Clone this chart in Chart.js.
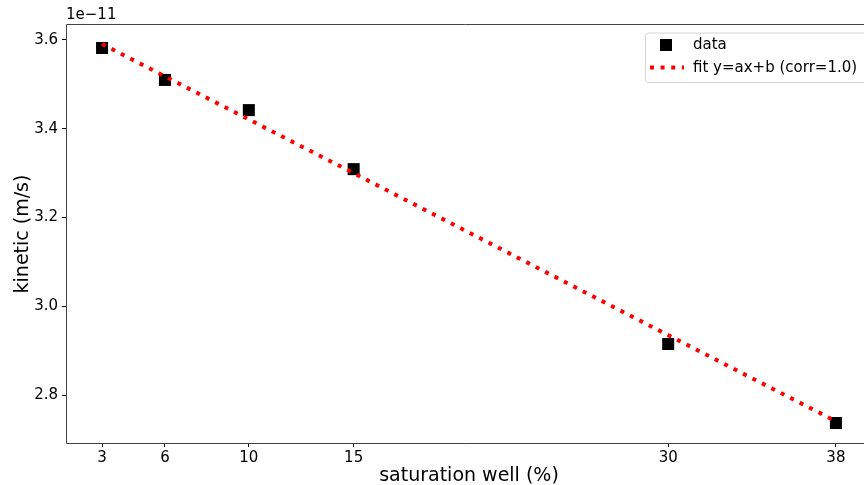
<!DOCTYPE html>
<html>
<head>
<meta charset="utf-8">
<script src="https://cdn.jsdelivr.net/npm/chart.js@4"></script>
<style>
  html, body { margin: 0; padding: 0; background: #fff; }
  #wrap { width: 864px; height: 485px; }
</style>
</head>
<body>
<div id="wrap"><canvas id="chart" width="864" height="485"></canvas></div>
<script>
// values shown in units of 1e-11 m/s
const saturation = [3, 6, 10, 15, 30, 38];
const kinetic = [3.582, 3.510, 3.442, 3.309, 2.915, 2.737];
const fitValues = [3.591, 3.518, 3.421, 3.300, 2.935, 2.741];
const xTicks = [3, 6, 10, 15, 30, 38];
const yTicks = [2.8, 3.0, 3.2, 3.4, 3.6];
const offsetLabel = '1e\u221211';
const xTitle = 'saturation well (%)';
const yTitle = 'kinetic (m/s)';
const legendLabels = ['data', 'fit y=ax+b (corr=1.0)'];

const FONT = 'DejaVu Sans';

const decorations = {
  id: 'decorations',
  afterDraw(chart) {
    const { ctx, chartArea: a } = chart;
    ctx.save();
    // frame (left, top, bottom)
    ctx.strokeStyle = '#444';
    ctx.lineWidth = 1;
    ctx.beginPath();
    ctx.moveTo(a.right, a.top + 0.5);
    ctx.lineTo(a.left + 0.5, a.top + 0.5);
    ctx.lineTo(a.left + 0.5, a.bottom + 0.5);
    ctx.lineTo(a.right, a.bottom + 0.5);
    ctx.stroke();

    // offset text
    ctx.fillStyle = '#000';
    ctx.font = `15px ${FONT}`;
    ctx.textAlign = 'left';
    ctx.textBaseline = 'bottom';
    ctx.fillText(offsetLabel, 66, 23);

    // axis titles
    ctx.font = `19px ${FONT}`;
    ctx.textAlign = 'center';
    ctx.textBaseline = 'middle';
    ctx.fillText(xTitle, 469, 476);
    ctx.save();
    ctx.translate(23, 234);
    ctx.rotate(-Math.PI / 2);
    ctx.fillText(yTitle, 0, 0);
    ctx.restore();

    // legend
    const lx = 645, ly = 32.5, lw = 225, lh = 49.5;
    ctx.fillStyle = 'rgba(255,255,255,0.8)';
    ctx.strokeStyle = '#d6d6d6';
    ctx.lineWidth = 1;
    ctx.beginPath();
    ctx.roundRect(lx + 0.5, ly + 0.5, lw, lh, 3);
    ctx.fill();
    ctx.stroke();

    ctx.fillStyle = '#000';
    ctx.fillRect(660, 39, 12, 12);

    ctx.strokeStyle = '#ff0000';
    ctx.lineWidth = 4;
    ctx.setLineDash([4, 6.6]);
    ctx.beginPath();
    ctx.moveTo(650, 67.5);
    ctx.lineTo(684, 67.5);
    ctx.stroke();
    ctx.setLineDash([]);

    ctx.fillStyle = '#000';
    ctx.font = `15px ${FONT}`;
    ctx.textAlign = 'left';
    ctx.textBaseline = 'middle';
    ctx.fillText(legendLabels[0], 693, 45);
    ctx.fillText(legendLabels[1], 693, 68);
    ctx.restore();
  }
};

const tickFont = { family: FONT, size: 15 };

function noPadding(scale) {
  scale.paddingLeft = 0;
  scale.paddingRight = 0;
  scale.paddingTop = 0;
  scale.paddingBottom = 0;
}

new Chart(document.getElementById('chart'), {
  type: 'scatter',
  data: {
    datasets: [
      {
        label: legendLabels[1],
        data: saturation.map((x, i) => ({ x, y: fitValues[i] })),
        showLine: true,
        borderColor: '#ff0000',
        borderWidth: 4,
        borderDash: [4, 6.6],
        pointRadius: 0,
        fill: false,
        order: 0,
      },
      {
        label: legendLabels[0],
        data: saturation.map((x, i) => ({ x, y: kinetic[i] })),
        pointStyle: 'rect',
        pointRadius: 8.5,
        pointHoverRadius: 8.5,
        backgroundColor: '#000',
        borderColor: '#000',
        borderWidth: 0,
        order: 1,
      },
    ],
  },
  options: {
    responsive: false,
    animation: false,
    layout: { autoPadding: false, padding: { top: 24, right: 0, left: 0, bottom: 0 } },
    plugins: { legend: { display: false }, tooltip: { enabled: false } },
    scales: {
      x: {
        type: 'linear',
        min: 1.28,
        max: 39.34,
        afterBuildTicks(scale) { scale.ticks = xTicks.map((value) => ({ value })); },
        afterFit(scale) { scale.height = 42; noPadding(scale); },
        ticks: { color: '#000', font: tickFont, padding: 2, maxRotation: 0, autoSkip: false },
        grid: { display: true, drawOnChartArea: false, drawTicks: true, tickLength: 4, color: '#000' },
        border: { display: false },
      },
      y: {
        type: 'linear',
        min: 2.692,
        max: 3.636,
        afterBuildTicks(scale) { scale.ticks = yTicks.map((value) => ({ value })); },
        afterFit(scale) { scale.width = 66; noPadding(scale); },
        ticks: { color: '#000', font: tickFont, padding: 4, callback: (v) => v.toFixed(1) },
        grid: { display: true, drawOnChartArea: false, drawTicks: true, tickLength: 4, color: '#000' },
        border: { display: false },
      },
    },
  },
  plugins: [decorations],
});
</script>
</body>
</html>
